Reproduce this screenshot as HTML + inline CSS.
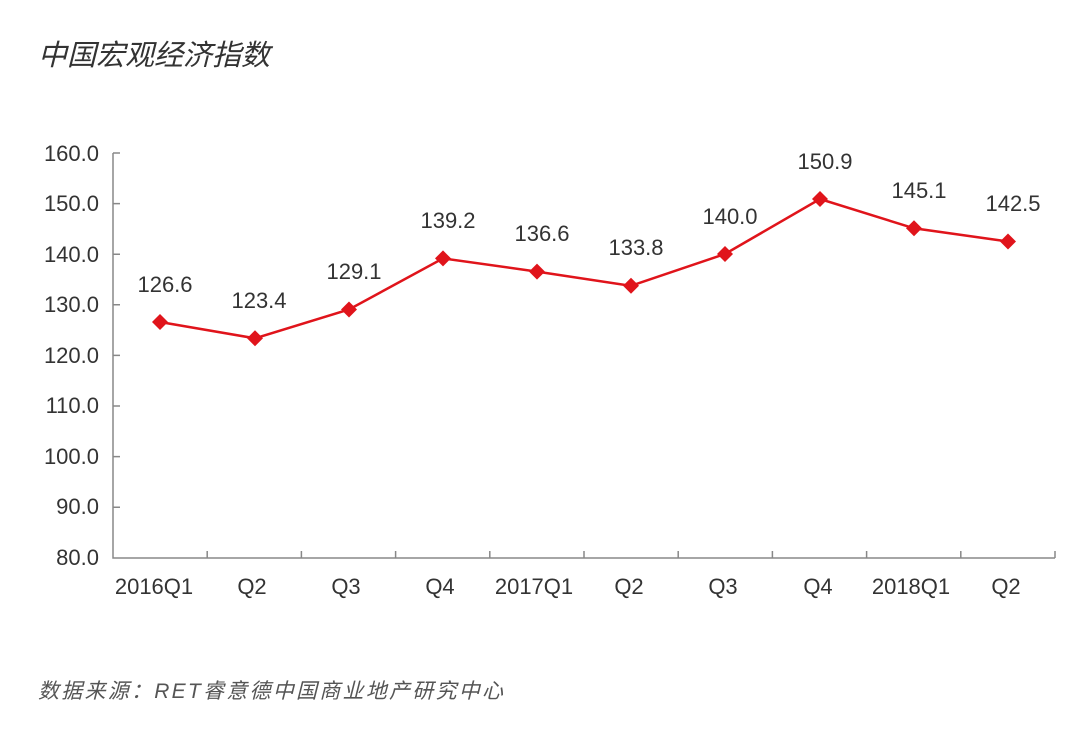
<!DOCTYPE html>
<html><head><meta charset="utf-8"><style>
html,body{margin:0;padding:0;background:#fff;}
svg{display:block;}
</style></head><body>
<svg width="1080" height="732" xmlns="http://www.w3.org/2000/svg">
<text x="38" y="65" font-family="'Liberation Sans','Noto Sans CJK SC',sans-serif" font-size="29" font-style="italic" fill="#333">中国宏观经济指数</text>
<g font-family="'Liberation Sans',sans-serif" font-size="22" fill="#333" text-anchor="end">
<text x="99" y="161">160.0</text>
<text x="99" y="211">150.0</text>
<text x="99" y="262">140.0</text>
<text x="99" y="312">130.0</text>
<text x="99" y="363">120.0</text>
<text x="99" y="413">110.0</text>
<text x="99" y="464">100.0</text>
<text x="99" y="514">90.0</text>
<text x="99" y="565">80.0</text>
</g>
<g stroke="#888" stroke-width="1.5" fill="none">
<path d="M113 153 V558 H1055"/>
<path d="M113 153h7M113 203.6h7M113 254.2h7M113 304.8h7M113 355.4h7M113 406h7M113 456.6h7M113 507.2h7"/>
<path d="M207.2 558v-7M301.4 558v-7M395.6 558v-7M489.8 558v-7M584 558v-7M678.2 558v-7M772.4 558v-7M866.6 558v-7M960.8 558v-7M1055 558v-7"/>
</g>
<g font-family="'Liberation Sans',sans-serif" font-size="22" fill="#333" text-anchor="middle">
<text x="154" y="594">2016Q1</text>
<text x="252" y="594">Q2</text>
<text x="346" y="594">Q3</text>
<text x="440" y="594">Q4</text>
<text x="534" y="594">2017Q1</text>
<text x="629" y="594">Q2</text>
<text x="723" y="594">Q3</text>
<text x="818" y="594">Q4</text>
<text x="911" y="594">2018Q1</text>
<text x="1006" y="594">Q2</text>
</g>
<polyline fill="none" stroke="#e0141b" stroke-width="2.5" points="160,322 255,338.3 349,309.5 443,258.4 537,271.6 631,285.8 725,254 820,199 914,228.3 1008,241.5"/>
<g fill="#e0141b">
<path d="M160 314l8 8-8 8-8-8z"/><path d="M255 330.3l8 8-8 8-8-8z"/><path d="M349 301.5l8 8-8 8-8-8z"/><path d="M443 250.4l8 8-8 8-8-8z"/><path d="M537 263.6l8 8-8 8-8-8z"/><path d="M631 277.8l8 8-8 8-8-8z"/><path d="M725 246l8 8-8 8-8-8z"/><path d="M820 191l8 8-8 8-8-8z"/><path d="M914 220.3l8 8-8 8-8-8z"/><path d="M1008 233.5l8 8-8 8-8-8z"/>
</g>
<g font-family="'Liberation Sans',sans-serif" font-size="22" fill="#333" text-anchor="middle">
<text x="165" y="292">126.6</text>
<text x="259" y="308">123.4</text>
<text x="354" y="279">129.1</text>
<text x="448" y="228">139.2</text>
<text x="542" y="241">136.6</text>
<text x="636" y="255">133.8</text>
<text x="730" y="224">140.0</text>
<text x="825" y="169">150.9</text>
<text x="919" y="198">145.1</text>
<text x="1013" y="211">142.5</text>
</g>
<text x="38" y="698" font-family="'Liberation Sans','Noto Sans CJK SC',sans-serif" font-size="21" font-style="italic" fill="#555" textLength="465" lengthAdjust="spacing">数据来源：RET睿意德中国商业地产研究中心</text>
</svg>
</body></html>
